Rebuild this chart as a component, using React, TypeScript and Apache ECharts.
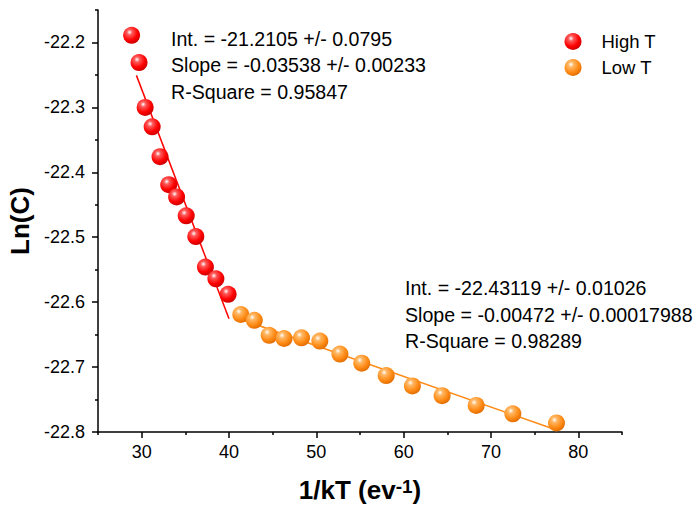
import React, { useEffect, useRef } from "react";
import * as echarts from "echarts";

// ---- data ----
const highX = [28.85, 29.7, 30.4, 31.2, 32.1, 33.1, 34.0, 35.1, 36.2, 37.3, 38.5, 39.9];
const highY = [-22.189, -22.231, -22.3, -22.33, -22.376, -22.419, -22.438, -22.467, -22.499, -22.546, -22.564, -22.588];
const lowX = [41.35, 42.9, 44.6, 46.3, 48.3, 50.4, 52.7, 55.2, 58.0, 61.0, 64.4, 68.3, 72.5, 77.5];
const lowY = [-22.619, -22.628, -22.651, -22.656, -22.655, -22.66, -22.68, -22.694, -22.713, -22.729, -22.744, -22.759, -22.772, -22.786];

// linear fits: [intercept, slope], drawn over x ranges
const highFit = [-21.2105, -0.03538];
const highFitRange = [29.4, 40.0];
const lowFit = [-22.43119, -0.00472];
const lowFitRange = [41.35, 77.5];

const highFitText = ["Int. = -21.2105 +/- 0.0795", "Slope = -0.03538 +/- 0.00233", "R-Square = 0.95847"];
const lowFitText = ["Int. = -22.43119 +/- 0.01026", "Slope = -0.00472 +/- 0.00017988", "R-Square = 0.98289"];

const xMajorTicks = [30, 40, 50, 60, 70, 80];
const xMinorTicks = [25, 35, 45, 55, 65, 75, 85];
const yMajorTicks = [-22.8, -22.7, -22.6, -22.5, -22.4, -22.3, -22.2];
const yMinorTicks = [-22.75, -22.65, -22.55, -22.45, -22.35, -22.25, -22.15];

const seriesNames = ["High T", "Low T"];

const FONT = "'Liberation Sans', Arial, sans-serif";

function sphere(c0: string, c1: string, c2: string) {
  return new echarts.graphic.RadialGradient(0.38, 0.32, 0.72, [
    { offset: 0, color: "#ffffff" },
    { offset: 0.22, color: c0 },
    { offset: 0.65, color: c1 },
    { offset: 1, color: c2 },
  ]);
}

export default function App() {
  const ref = useRef<HTMLDivElement>(null);
  useEffect(() => {
    if (!ref.current) return;
    const chart = echarts.init(ref.current, null, { renderer: "svg" });
    const fitLine = (p: number[], r: number[]) => r.map((x) => [x, p[0] + p[1] * x]);
    const gridBox = { left: 98, top: 10, right: 78, bottom: 80, outerBoundsMode: "none" } as any;
    const textLines = (lines: string[], x: number, y0: number, dy: number) =>
      lines.map((t, i) => ({
        type: "text",
        x,
        y: y0 + i * dy,
        style: { text: t, fill: "#000", font: `19.6px ${FONT}`, textVerticalAlign: "middle", verticalAlign: "middle" },
      }));
    const redC = sphere("#ff5a5a", "#ff0000", "#c40000");
    const orC = sphere("#ffb866", "#ff8a14", "#dd6a00");
    chart.setOption({
      animation: false,
      backgroundColor: "#fff",
      textStyle: { fontFamily: FONT },
      grid: [gridBox, { ...gridBox }],
      legend: {
        data: seriesNames,
        orient: "vertical",
        left: 564.5,
        top: 32,
        padding: 0,
        itemWidth: 17,
        itemHeight: 17,
        itemGap: 7,
        icon: "circle",
        textStyle: { fontSize: 18.5, color: "#000", fontFamily: FONT, padding: [0, 0, 0, 15] },
      },
      xAxis: [
        {
          type: "value",
          gridIndex: 0,
          min: 25,
          max: 85,
          name: "1/kT (ev{sup|-1})",
          nameLocation: "middle",
          nameGap: 45,
          nameTextStyle: {
            fontSize: 26,
            fontWeight: "bold",
            color: "#000",
            fontFamily: FONT,
            rich: { sup: { fontSize: 19, fontWeight: "bold", color: "#000", fontFamily: FONT, verticalAlign: "top" } },
          },
          axisLine: { show: true, lineStyle: { color: "#000", width: 1.5 } },
          axisTick: { show: true, inside: false, length: 6, lineStyle: { color: "#000", width: 1.5 }, customValues: xMajorTicks },
          axisLabel: { show: true, margin: 11, fontSize: 18, color: "#000", fontFamily: FONT, customValues: xMajorTicks },
          splitLine: { show: false },
        },
        {
          type: "value",
          gridIndex: 1,
          min: 25,
          max: 85,
          axisLine: { show: false },
          axisTick: { show: true, inside: false, length: 3, lineStyle: { color: "#000", width: 1.5 }, customValues: xMinorTicks },
          axisLabel: { show: false },
          splitLine: { show: false },
        },
      ],
      yAxis: [
        {
          type: "value",
          gridIndex: 0,
          min: -22.8,
          max: -22.15,
          name: "Ln(C)",
          nameLocation: "middle",
          nameGap: 58,
          nameTextStyle: { fontSize: 26, fontWeight: "bold", color: "#000", fontFamily: FONT },
          axisLine: { show: true, lineStyle: { color: "#000", width: 1.5 } },
          axisTick: { show: true, inside: false, length: 6, lineStyle: { color: "#000", width: 1.5 }, customValues: yMajorTicks },
          axisLabel: {
            show: true,
            margin: 13,
            fontSize: 18,
            color: "#000",
            fontFamily: FONT,
            customValues: yMajorTicks,
            formatter: (v: number) => v.toFixed(1),
          },
          splitLine: { show: false },
        },
        {
          type: "value",
          gridIndex: 1,
          min: -22.8,
          max: -22.15,
          axisLine: { show: false },
          axisTick: { show: true, inside: false, length: 3, lineStyle: { color: "#000", width: 1.5 }, customValues: yMinorTicks },
          axisLabel: { show: false },
          splitLine: { show: false },
        },
      ],
      series: [
        {
          type: "line",
          xAxisIndex: 0,
          yAxisIndex: 0,
          data: fitLine(highFit, highFitRange),
          showSymbol: false,
          symbol: "none",
          lineStyle: { color: "#ff0000", width: 1.5 },
          z: 1,
          silent: true,
        },
        {
          type: "line",
          xAxisIndex: 0,
          yAxisIndex: 0,
          data: fitLine(lowFit, lowFitRange),
          showSymbol: false,
          symbol: "none",
          lineStyle: { color: "#ff8a14", width: 1.5 },
          z: 1,
          silent: true,
        },
        {
          name: seriesNames[0],
          type: "scatter",
          xAxisIndex: 0,
          yAxisIndex: 0,
          data: highX.map((x, i) => [x, highY[i]]),
          symbol: "circle",
          symbolSize: 17,
          itemStyle: { color: redC, opacity: 1 },
          z: 3,
        },
        {
          name: seriesNames[1],
          type: "scatter",
          xAxisIndex: 0,
          yAxisIndex: 0,
          data: lowX.map((x, i) => [x, lowY[i]]),
          symbol: "circle",
          symbolSize: 17,
          itemStyle: { color: orC, opacity: 1 },
          z: 3,
        },
      ],
      graphic: [...textLines(highFitText, 171, 39, 26.3), ...textLines(lowFitText, 405, 288, 26.7)],
    });
    return () => chart.dispose();
  }, []);
  return <div ref={ref} style={{ width: 700, height: 512, position: "absolute", left: 0, top: 0 }} />;
}
